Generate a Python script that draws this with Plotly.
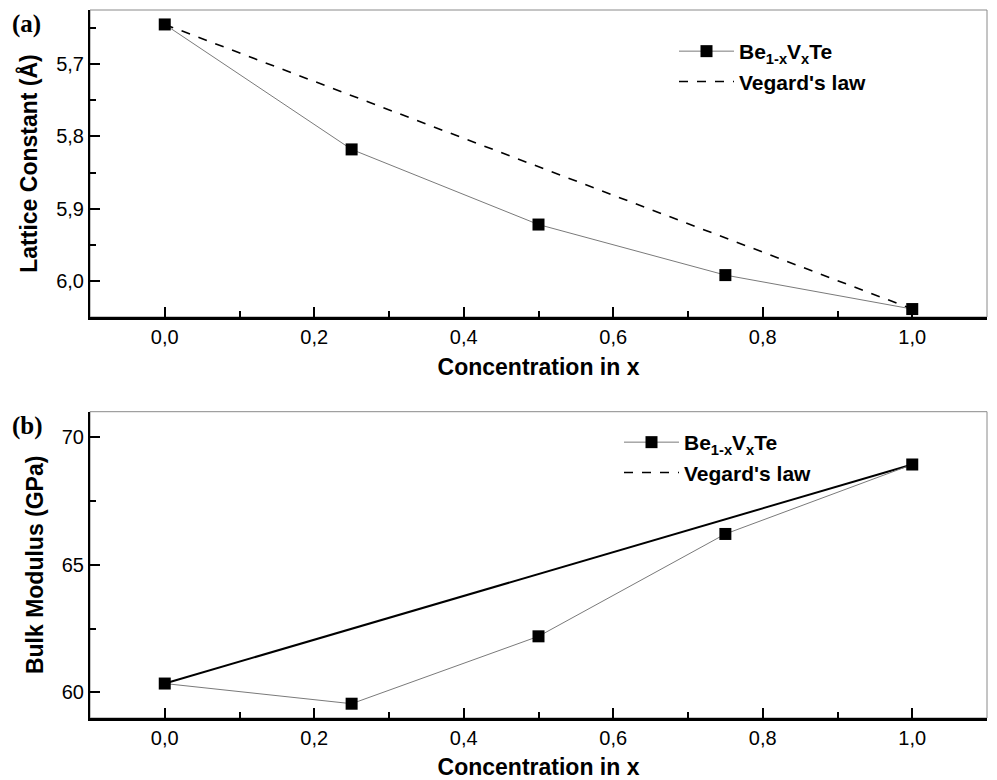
import plotly.graph_objects as go
from plotly.subplots import make_subplots

x_conc = [0.0, 0.25, 0.5, 0.75, 1.0]
lattice = [5.645, 5.818, 5.922, 5.992, 6.039]
bulk = [60.35, 59.56, 62.2, 66.21, 68.93]
vegard_x = [0.0, 1.0]
vegard_lattice = [5.645, 6.039]
vegard_bulk = [60.35, 68.93]

series_name = "<b>Be<sub>1-x</sub>V<sub>x</sub>Te</b>"
vegard_name = "<b>Vegard's law</b>"

W, H = 997, 780
L, R, T, B = 90, 10, 10, 62
PH = H - T - B

def py(p):
    return (H - B - p) / PH

fig = make_subplots(rows=2, cols=1)
fig.update_layout(
    xaxis=dict(domain=[0, 1]), yaxis=dict(domain=[py(317), py(10)]),
    xaxis2=dict(domain=[0, 1]), yaxis2=dict(domain=[py(718), py(411.7)]),
)

# top panel
fig.add_trace(go.Scatter(x=vegard_x, y=vegard_lattice, mode="lines",
                         line=dict(color="black", width=1.6, dash="dash"),
                         name=vegard_name, legend="legend"), row=1, col=1)
fig.add_trace(go.Scatter(x=x_conc, y=lattice, mode="lines+markers",
                         line=dict(color="#7a7a7a", width=1),
                         marker=dict(symbol="square", size=12, color="black"),
                         name=series_name, legend="legend"), row=1, col=1)

# bottom panel
fig.add_trace(go.Scatter(x=vegard_x, y=vegard_bulk, mode="lines",
                         line=dict(color="black", width=2),
                         showlegend=False), row=2, col=1)
fig.add_trace(go.Scatter(x=x_conc, y=bulk, mode="lines+markers",
                         line=dict(color="#7a7a7a", width=1),
                         marker=dict(symbol="square", size=12, color="black"),
                         name=series_name, legend="legend2"), row=2, col=1)
fig.add_trace(go.Scatter(x=[None], y=[None], mode="lines",
                         line=dict(color="black", width=1.6, dash="dash"),
                         name=vegard_name, legend="legend2"), row=2, col=1)

tickfont = dict(family="Liberation Sans, Arial", size=20, color="black")
titlefont = dict(family="Liberation Sans, Arial", size=23, color="black")

xcommon = dict(range=[-0.1, 1.1], tickvals=[0, 0.2, 0.4, 0.6, 0.8, 1.0],
               tickformat=".1f", ticks="inside", ticklen=10, tickwidth=1.5,
               tickcolor="black", showline=True, linecolor="black", linewidth=2.5,
               showgrid=False, zeroline=False, tickfont=tickfont, automargin=False,
               minor=dict(ticks="inside", ticklen=6, dtick=0.1, tickcolor="black", tickwidth=1.5),
               title=dict(text="<b>Concentration in x</b>", font=titlefont, standoff=13))
fig.update_xaxes(**xcommon, row=1, col=1)
fig.update_xaxes(**xcommon, row=2, col=1)

ycommon = dict(ticks="inside", ticklen=10, tickwidth=1.5, tickcolor="black",
               showline=True, linecolor="black", linewidth=2, showgrid=False,
               zeroline=False, tickfont=tickfont, automargin=False)
fig.update_yaxes(**ycommon, range=[6.05, 5.625], tickvals=[5.7, 5.8, 5.9, 6.0],
                 tickformat=".1f",
                 minor=dict(ticks="inside", ticklen=6, dtick=0.05, tickcolor="black", tickwidth=1.5),
                 title=dict(text="<b>Lattice Constant (Å)</b>", font=titlefont, standoff=12),
                 row=1, col=1)
fig.update_yaxes(**ycommon, range=[59, 71], tickvals=[60, 65, 70],
                 minor=dict(ticks="inside", ticklen=6, dtick=2.5, tickcolor="black", tickwidth=1.5),
                 title=dict(text="<b>Bulk Modulus (GPa)</b>", font=titlefont, standoff=12),
                 row=2, col=1)

for xr, yr in [("x domain", "y domain"), ("x2 domain", "y2 domain")]:
    fig.add_shape(type="rect", xref=xr, yref=yr, x0=0, x1=1, y0=0, y1=1,
                  line=dict(color="#8a8a8a", width=1), layer="below")

legfont = dict(family="Liberation Sans, Arial", size=21, color="black")
fig.update_layout(
    width=W, height=H,
    margin=dict(l=L, r=R, t=T, b=B, autoexpand=False),
    paper_bgcolor="white", plot_bgcolor="white",
    separators=", ",
    legend=dict(x=(674 - L) / (W - L - R), y=py(31), xanchor="left", yanchor="top",
                bgcolor="rgba(0,0,0,0)", font=legfont, traceorder="reversed",
                tracegroupgap=0, itemwidth=55),
    legend2=dict(x=(619 - L) / (W - L - R), y=py(422), xanchor="left", yanchor="top",
                 bgcolor="rgba(0,0,0,0)", font=legfont, tracegroupgap=0, itemwidth=55),
    annotations=[
        dict(text="<b>(a)</b>", x=(10 - L) / (W - L - R), y=py(8), xref="paper", yref="paper",
             xanchor="left", yanchor="top", showarrow=False,
             font=dict(family="Liberation Serif, Times New Roman", size=25, color="black")),
        dict(text="<b>(b)</b>", x=(10 - L) / (W - L - R), y=py(410), xref="paper", yref="paper",
             xanchor="left", yanchor="top", showarrow=False,
             font=dict(family="Liberation Serif, Times New Roman", size=25, color="black")),
    ],
    showlegend=True,
)

fig.write_html("out.html")
